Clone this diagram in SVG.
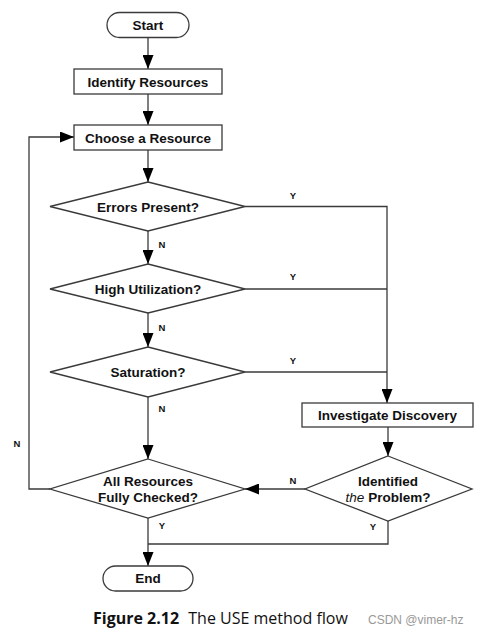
<svg xmlns="http://www.w3.org/2000/svg" width="484" height="637" viewBox="0 0 484 637">
<style>
.shape{fill:#fff;stroke:#3a3a3a;stroke-width:1.3}
.t{font-family:"Liberation Sans",Arial,sans-serif;font-weight:bold;font-size:13.5px;fill:#111;text-anchor:middle}
.lbl{font-family:"Liberation Sans",Arial,sans-serif;font-weight:bold;font-size:9.5px;fill:#111;text-anchor:middle}
.c{fill:none;stroke:#3a3a3a;stroke-width:1.3}
</style>
<defs>
<marker id="ah" markerUnits="userSpaceOnUse" markerWidth="14" markerHeight="11" refX="14" refY="5.5" orient="auto">
<path d="M0,0 L14,5.5 L0,11 z" fill="#000"/>
</marker>
</defs>
<g id="connectors">
<path class="c" d="M148,38 V69" marker-end="url(#ah)"/>
<path class="c" d="M148,94 V125" marker-end="url(#ah)"/>
<path class="c" d="M148,150 V182" marker-end="url(#ah)"/>
<path class="c" d="M148,231 V264" marker-end="url(#ah)"/>
<path class="c" d="M148,313 V347" marker-end="url(#ah)"/>
<path class="c" d="M148,397 V459" marker-end="url(#ah)"/>
<path class="c" d="M245,206.5 H387 V403" marker-end="url(#ah)"/>
<path class="c" d="M245,289 H387"/>
<path class="c" d="M245,372 H387"/>
<path class="c" d="M388,427 V456" marker-end="url(#ah)"/>
<path class="c" d="M305,489 H245" marker-end="url(#ah)"/>
<path class="c" d="M50,489 H29 V137 H74" marker-end="url(#ah)"/>
<path class="c" d="M148,518 V566" marker-end="url(#ah)"/>
<path class="c" d="M388,521 V544 H148"/>
<text class="lbl" x="293" y="199">Y</text>
<text class="lbl" x="293" y="280">Y</text>
<text class="lbl" x="293" y="364">Y</text>
<text class="lbl" x="162" y="248">N</text>
<text class="lbl" x="162" y="331">N</text>
<text class="lbl" x="162" y="412">N</text>
<text class="lbl" x="17" y="447">N</text>
<text class="lbl" x="293" y="484">N</text>
<text class="lbl" x="162" y="529">Y</text>
<text class="lbl" x="373" y="530">Y</text>
</g>
<g id="start">
<rect class="shape" x="107" y="12.5" width="82" height="25" rx="12.5"/>
<text class="t" x="148" y="30">Start</text>
</g>
<g id="identify">
<rect class="shape" x="74" y="69" width="148" height="25"/>
<text class="t" x="148" y="86.5">Identify Resources</text>
</g>
<g id="choose">
<rect class="shape" x="74" y="125" width="148" height="25"/>
<text class="t" x="148" y="142.5">Choose a Resource</text>
</g>
<g id="errors">
<polygon class="shape" points="148,182 245,206.5 148,231 50,206.5"/>
<text class="t" x="148" y="211.5">Errors Present?</text>
</g>
<g id="utilization">
<polygon class="shape" points="148,264 245,289 148,313 50,289"/>
<text class="t" x="148" y="294">High Utilization?</text>
</g>
<g id="saturation">
<polygon class="shape" points="148,347 245,372 148,397 50,372"/>
<text class="t" x="148" y="377">Saturation?</text>
</g>
<g id="investigate">
<rect class="shape" x="302" y="403" width="171" height="24"/>
<text class="t" x="387.5" y="420">Investigate Discovery</text>
</g>
<g id="identified">
<polygon class="shape" points="388,456 472,489 388,521 305,489"/>
<text class="t" x="388" y="486">Identified</text>
<text class="t" x="388" y="502"><tspan font-style="italic" font-weight="normal">the</tspan> Problem?</text>
</g>
<g id="allchecked">
<polygon class="shape" points="148,459 245,489 148,518 50,489"/>
<text class="t" x="148" y="486">All Resources</text>
<text class="t" x="148" y="502">Fully Checked?</text>
</g>
<g id="end">
<rect class="shape" x="103" y="566" width="90" height="25" rx="12.5"/>
<text class="t" x="148" y="583">End</text>
</g>
<g id="caption">
<text x="93" y="624" font-family="'Open Sans','Noto Sans',sans-serif" font-size="16" fill="#111"><tspan font-weight="bold">Figure 2.12</tspan><tspan dx="5"> The USE method flow</tspan></text>
<text x="368" y="624" font-family="'Liberation Sans',Arial,sans-serif" font-size="12" fill="#999">CSDN @vimer-hz</text>
</g>
</svg>
